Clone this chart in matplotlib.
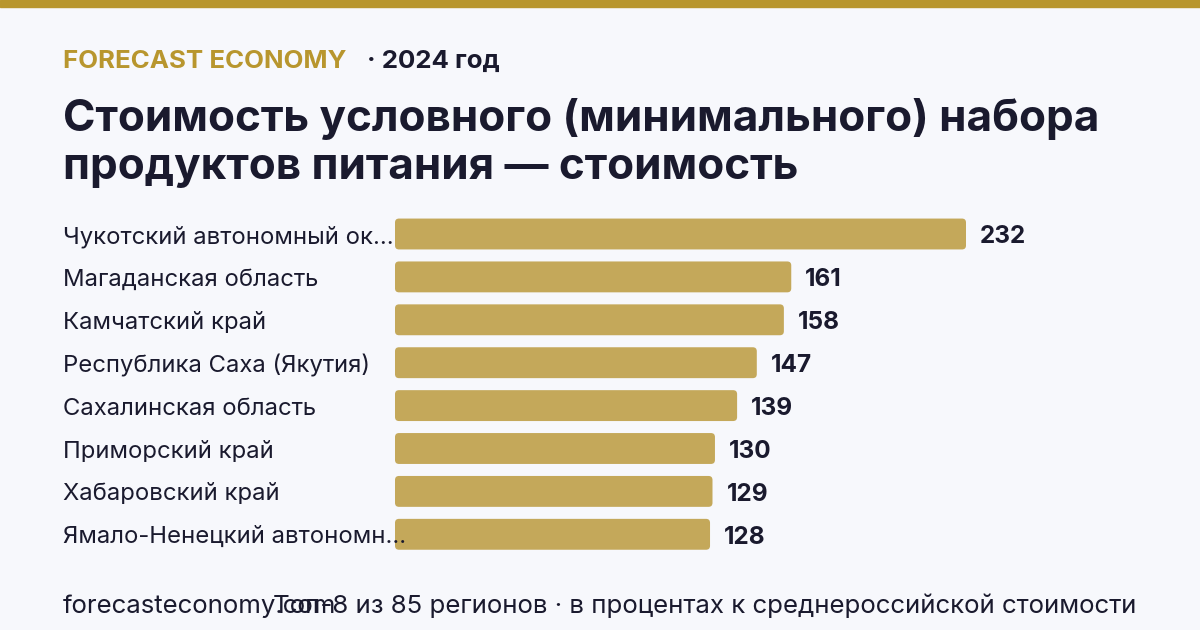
import matplotlib.pyplot as plt
from matplotlib.patches import FancyBboxPatch

regions = ["Чукотский автономный ок...", "Магаданская область", "Камчатский край",
           "Республика Саха (Якутия)", "Сахалинская область", "Приморский край",
           "Хабаровский край", "Ямало-Ненецкий автономн..."]
values = [232, 161, 158, 147, 139, 130, 129, 128]

brand = "FORECAST ECONOMY"
period = "· 2024 год"
title = "Стоимость условного (минимального) набора\nпродуктов питания — стоимость"
source = "forecasteconomy.com"
note = "Топ-8 из 85 регионов · в процентах к среднероссийской стоимости"

BG = "#F7F8FC"
GOLD = "#B8962E"
BAR = "#C4A85A"
DARK = "#1A1A2E"

W, H = 1200, 630
plt.rcParams['font.family'] = ['Inter', 'DejaVu Sans']

fig = plt.figure(figsize=(W / 100, H / 100), dpi=100, facecolor=BG)


def fx(px):
    return px / W


def fy(py):
    return 1 - py / H


# top band
fig.patches.append(plt.Rectangle((0, fy(7)), 1, 7 / H, transform=fig.transFigure,
                                 color=GOLD, zorder=0))

fig.text(fx(63), fy(61), brand, color=GOLD, fontsize=18.6, fontweight='bold', va='center')
fig.text(fx(367), fy(61), period, color=DARK, fontsize=18.6, fontweight='bold', va='center')
fig.text(fx(63), fy(143), title, color=DARK, fontsize=31.7, fontweight='bold',
         va='center', linespacing=1.2)

# bars
n = len(values)
step = 42.9
top = 234 - step / 2
ax = fig.add_axes([fx(395), fy(top + step * n), fx(966 - 395), step * n / H])
ax.set_facecolor('none')
ax.set_xlim(0, max(values))
ax.set_ylim(n - 0.5, -0.5)
ax.axis('off')

ypos = list(range(n))
bars = ax.barh(ypos, values, height=0.72, color=BAR)
xunit = (966 - 395) / max(values)
r_px = 4
for b in bars:
    b.set_visible(False)
    p = FancyBboxPatch((b.get_x(), b.get_y()), b.get_width(), b.get_height(),
                       boxstyle=f"round,pad=0,rounding_size={r_px / xunit}",
                       mutation_aspect=xunit / step, facecolor=BAR, edgecolor='none')
    ax.add_patch(p)

for y, v, lab in zip(ypos, values, regions):
    ax.text(v + 14 / xunit, y + 3 / step, str(v), color=DARK, fontsize=17.5,
            fontweight='bold', va='center', ha='left', clip_on=False)
    fig.text(fx(63), fy(237 + step * y), lab, color=DARK, fontsize=17.2, va='center', zorder=5)

fig.text(fx(63), fy(606), source, color=DARK, fontsize=18.6, va='center')
fig.text(fx(1136), fy(606), note, color=DARK, fontsize=18.6, va='center', ha='right')

fig.savefig("out.png", dpi=100, facecolor=BG)
